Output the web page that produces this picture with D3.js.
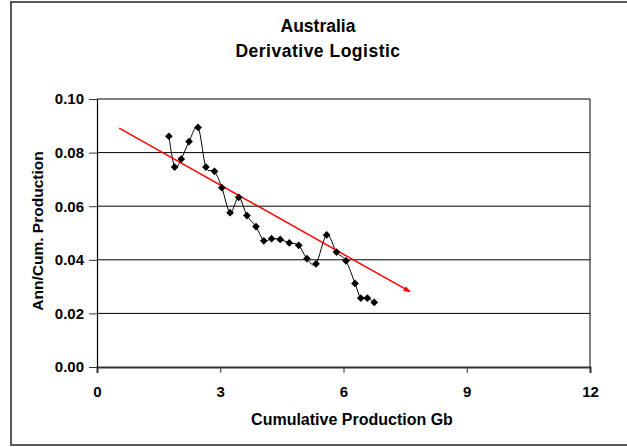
<!DOCTYPE html>
<html>
<head>
<meta charset="utf-8">
<script src="https://cdn.jsdelivr.net/npm/d3@7"></script>
<style>
  body { margin: 0; background: #fff; }
  text { font-family: "Liberation Sans", Arial, sans-serif; font-weight: bold; fill: #000; }
</style>
</head>
<body>
<div id="chart"></div>
<script>
// cumulative production (Gb) and annual/cumulative ratio
const cumProd = [1.75, 1.89, 2.05, 2.24, 2.46, 2.65, 2.86, 3.04, 3.24, 3.45, 3.65, 3.87, 4.06,
  4.25, 4.46, 4.68, 4.91, 5.11, 5.33, 5.59, 5.83, 6.06, 6.28, 6.42, 6.58, 6.75];
const annCum = [0.0861, 0.0746, 0.0776, 0.0841, 0.0894, 0.0746, 0.0730, 0.0669, 0.0576, 0.0633,
  0.0565, 0.0524, 0.0471, 0.0479, 0.0476, 0.0463, 0.0454, 0.0404, 0.0385, 0.0493, 0.0429,
  0.0396, 0.0312, 0.0257, 0.0257, 0.0241];

// fitted straight line (start and end)
const trendX = [0.54, 7.62];
const trendY = [0.0891, 0.0281];

const xTicks = [0, 3, 6, 9, 12];
const yTicks = [0, 0.02, 0.04, 0.06, 0.08, 0.10];

const W = 627, H = 447;
const margin = { top: 99, right: 37, bottom: 80, left: 97 };
const width = W - margin.left - margin.right;
const height = H - margin.top - margin.bottom;

const svg = d3.select("#chart").append("svg")
  .attr("width", W)
  .attr("height", H);

// chart frame
svg.append("rect")
  .attr("x", 11).attr("y", 2)
  .attr("width", 640).attr("height", 443)
  .attr("fill", "#fff")
  .attr("stroke", "#222")
  .attr("stroke-width", 1.5);

const g = svg.append("g")
  .attr("transform", `translate(${margin.left}, ${margin.top})`);

const x = d3.scaleLinear().domain([0, 12]).range([0, width]);
const y = d3.scaleLinear().domain([0, 0.10]).range([height, 0]);

// gridlines
g.append("g")
  .selectAll("line")
  .data(yTicks.slice(1))
  .enter()
  .append("line")
  .attr("x1", 0).attr("x2", width)
  .attr("y1", (d) => y(d)).attr("y2", (d) => y(d))
  .attr("stroke", "#000")
  .attr("stroke-width", 1);

// right edge of plot area
g.append("line")
  .attr("x1", width).attr("x2", width)
  .attr("y1", 0).attr("y2", height)
  .attr("stroke", "#000");

// axes
const xAxis = g.append("g")
  .attr("transform", `translate(0, ${height})`)
  .call(d3.axisBottom(x).tickValues(xTicks).tickSize(6).tickPadding(13).tickFormat(d3.format("d")));
const yAxis = g.append("g")
  .call(d3.axisLeft(y).tickValues(yTicks).tickSize(8).tickPadding(5).tickFormat(d3.format(".2f")));

[xAxis, yAxis].forEach((a) => {
  a.selectAll("text").style("font-size", "15px").style("font-family", "Liberation Sans, Arial, sans-serif").style("font-weight", "bold");
  a.selectAll("line").attr("stroke", "#333");
});
xAxis.select(".domain").attr("stroke", "#333").attr("stroke-width", 2);
yAxis.select(".domain").attr("stroke", "#000").attr("stroke-width", 1.2);

// arrow head for the trend line
svg.append("defs").append("marker")
  .attr("id", "arrow")
  .attr("viewBox", "0 0 10 10")
  .attr("refX", 9).attr("refY", 5)
  .attr("markerWidth", 7).attr("markerHeight", 7)
  .attr("markerUnits", "userSpaceOnUse")
  .attr("orient", "auto")
  .append("path")
  .attr("d", "M0,1 L10,5 L0,9 Z")
  .attr("fill", "#ff0000");

// data line (smoothed)
const pts = cumProd.map((v, i) => [v, annCum[i]]);
g.append("path")
  .datum(pts)
  .attr("fill", "none")
  .attr("stroke", "#000")
  .attr("stroke-width", 1)
  .attr("d", d3.line().x((d) => x(d[0])).y((d) => y(d[1])).curve(d3.curveCardinal.tension(0)));

// trend line
g.append("path")
  .datum(trendX.map((v, i) => [v, trendY[i]]))
  .attr("fill", "none")
  .attr("stroke", "#ff0000")
  .attr("stroke-width", 1.5)
  .attr("marker-end", "url(#arrow)")
  .attr("d", d3.line().x((d) => x(d[0])).y((d) => y(d[1])));

// diamond markers
g.selectAll(".pt")
  .data(pts)
  .enter()
  .append("path")
  .attr("class", "pt")
  .attr("transform", (d) => `translate(${x(d[0])}, ${y(d[1])}) rotate(45)`)
  .attr("d", d3.symbol().type(d3.symbolSquare).size(30))
  .attr("fill", "#000");

// titles
svg.append("text")
  .attr("x", 318).attr("y", 32)
  .attr("text-anchor", "middle")
  .style("font-size", "17.5px")
  .text("Australia");
svg.append("text")
  .attr("x", 318).attr("y", 57)
  .attr("text-anchor", "middle")
  .style("font-size", "17.5px")
  .style("letter-spacing", "0.5px")
  .text("Derivative Logistic");

svg.append("text")
  .attr("x", 352).attr("y", 425)
  .attr("text-anchor", "middle")
  .style("font-size", "16px")
  .text("Cumulative Production Gb");

svg.append("text")
  .attr("transform", "rotate(-90)")
  .attr("x", -231).attr("y", 43)
  .attr("text-anchor", "middle")
  .style("font-size", "15.5px")
  .text("Ann/Cum. Production");
</script>
</body>
</html>
